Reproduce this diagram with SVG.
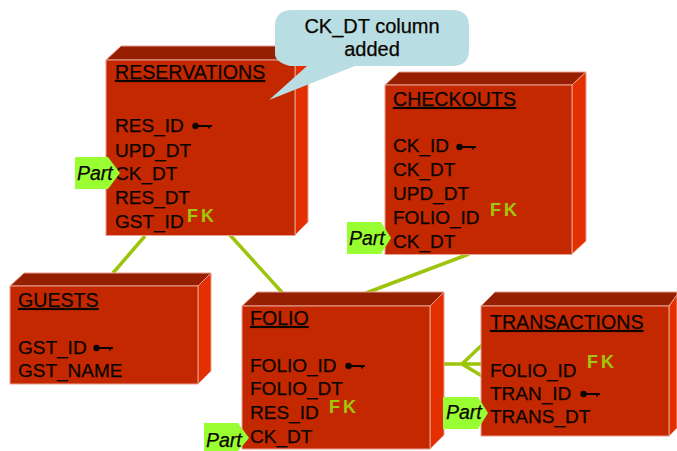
<svg xmlns="http://www.w3.org/2000/svg" width="677" height="451" viewBox="0 0 677 451">
<style>
text{font-family:"Liberation Sans",Arial,sans-serif;fill:#0a0500;stroke:#0a0500;stroke-width:.25}
.t{font-size:19px}
.h{font-size:19.600px;text-decoration:underline}
.f{fill:#c42800;stroke:#e8a090;stroke-width:1}
.s{fill:#951f00;stroke:#e8a090;stroke-width:1}
.r{fill:#e42f00;stroke:#e8a090;stroke-width:1}
.c{stroke:#9bc40a;stroke-width:3.500;fill:none}
.p{fill:#99ff33}
.pt{font-size:19.500px;font-style:italic}
.fk{font-size:18px;font-weight:bold;fill:#a0c808;stroke:none;letter-spacing:3px}
.k{fill:none;stroke:#0a0500;stroke-width:1.800}
.n{font-size:20px}
</style>
<defs>
<g id="key"><circle cx="3.500" cy="0" r="3.200" fill="#0a0500"/><path class="k" d="M5 0H20M17 0V2.500"/></g>
</defs>
<g id="connectors">
<path class="c" d="M145 236L113 273"/>
<path class="c" d="M230 235L288 299"/>
<path class="c" d="M469 254L366 293"/>
<path class="c" d="M437 364H481M462 364L482 345M462 364L482 376"/>
</g>
<g id="reservations">
<path class="s" d="M106 60L121 46H308L295 60Z"/><path class="r" d="M295 60L308 46V222L295 235Z"/><rect class="f" x="106" y="60" width="189" height="175.500"/>
<text class="h" x="115" y="79">RESERVATIONS</text>
<text class="t" x="115" y="132">RES_ID</text><use href="#key" x="192" y="126"/>
<text class="t" x="115" y="157">UPD_DT</text>
<text class="t" x="115" y="180">CK_DT</text>
<text class="t" x="115" y="204">RES_DT</text>
<text class="t" x="115" y="228">GST_ID</text>
<text class="fk" x="187" y="222">FK</text>
</g>
<g id="part-reservations"><path class="p" d="M75 157H108L120 173L108 189H75Z"/><text class="pt" x="77" y="180">Part</text></g>
<g id="checkouts">
<path class="s" d="M385 85L399 72H586L572 85Z"/><path class="r" d="M572 85L586 72V241L572 254Z"/><rect class="f" x="385" y="85" width="187" height="169.500"/>
<text class="h" x="393" y="106">CHECKOUTS</text>
<text class="t" x="393" y="152">CK_ID</text><use href="#key" x="456" y="147"/>
<text class="t" x="393" y="176">CK_DT</text>
<text class="t" x="393" y="200">UPD_DT</text>
<text class="t" x="393" y="224">FOLIO_ID</text>
<text class="t" x="393" y="248">CK_DT</text>
<text class="fk" x="490" y="216">FK</text>
</g>
<g id="part-checkouts"><path class="p" d="M347 222H381L391 238L381 254H347Z"/><text class="pt" x="349" y="245">Part</text></g>
<g id="guests">
<path class="s" d="M10 286L24 273H211L198 286Z"/><path class="r" d="M198 286L211 273V371L198 384Z"/><rect class="f" x="10" y="286" width="188" height="98"/>
<text class="h" x="18" y="307">GUESTS</text>
<text class="t" x="18" y="354">GST_ID</text><use href="#key" x="93" y="348"/>
<text class="t" x="18" y="377">GST_NAME</text>
</g>
<g id="folio">
<path class="s" d="M242 306L257 292H444L430 306Z"/><path class="r" d="M430 306L444 292V435L430 449Z"/><rect class="f" x="242" y="306" width="188" height="143"/>
<text class="h" x="250" y="325">FOLIO</text>
<text class="t" x="250" y="372">FOLIO_ID</text><use href="#key" x="345" y="366"/>
<text class="t" x="250" y="395">FOLIO_DT</text>
<text class="t" x="250" y="419">RES_ID</text>
<text class="t" x="250" y="443">CK_DT</text>
<text class="fk" x="329" y="413">FK</text>
</g>
<g id="part-folio"><path class="p" d="M204 423H238L249 438L238 451H204Z"/><text class="pt" x="206" y="447">Part</text></g>
<g id="transactions">
<path class="s" d="M481 306L495 292H677V295L669 306Z"/><path class="r" d="M669 306L677 295V428L669 436Z"/><rect class="f" x="481" y="306" width="188" height="130"/>
<text class="h" x="490" y="329">TRANSACTIONS</text>
<text class="t" x="490" y="377">FOLIO_ID</text>
<text class="t" x="490" y="400">TRAN_ID</text><use href="#key" x="580" y="394"/>
<text class="t" x="490" y="423">TRANS_DT</text>
<text class="fk" x="587" y="368">FK</text>
</g>
<g id="part-transactions"><path class="p" d="M443 397H478L488 413L478 429H443Z"/><text class="pt" x="446" y="419">Part</text></g>
<g id="callout">
<path fill="#b8dde3" d="M293 10H452Q469 10 469 26V50Q469 66 452 66H355L269 100L307 66H290Q275 62 275 54V26Q275 10 293 10Z"/>
<text class="n" x="372" y="33" text-anchor="middle">CK_DT column</text>
<text class="n" x="372" y="56" text-anchor="middle">added</text>
</g>
</svg>
